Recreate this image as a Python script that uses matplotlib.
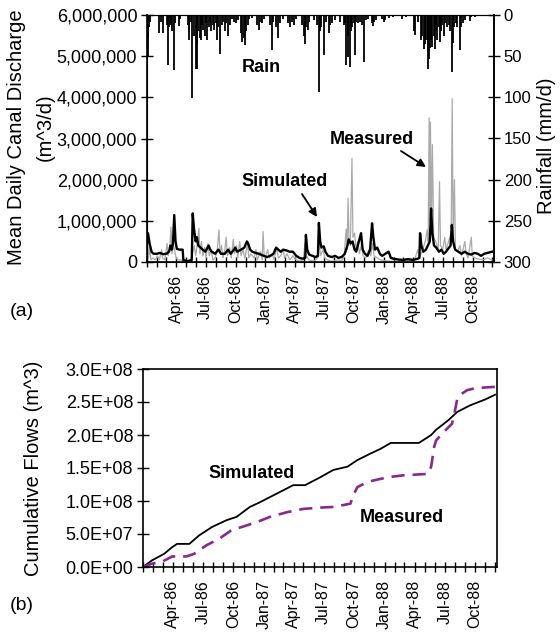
import numpy as np
import pandas as pd
import matplotlib
matplotlib.use("Agg")
import matplotlib.pyplot as plt
from matplotlib.ticker import FuncFormatter, MultipleLocator

plt.rcParams['font.family'] = ['Liberation Sans', 'DejaVu Sans']

START = pd.Timestamp('1986-01-01')
X_END_DAY = 1070

# Simulated daily canal discharge: (day since 1 Jan 1986, million m^3/d)
simulated_flow = [
    (0, 0.45), (3, 0.70), (8, 0.45), (14, 0.25), (20, 0.20), (30, 0.20), (40, 0.22),
    (50, 0.19), (60, 0.20), (68, 0.25), (72, 0.40), (76, 0.30), (80, 0.45), (84, 1.14),
    (88, 0.50), (92, 0.32), (100, 0.30), (110, 0.30), (112, 0.05), (125, 0.02), (138, 0.05),
    (141, 1.18), (145, 0.80), (150, 0.50), (154, 0.60), (158, 0.40), (165, 0.35), (172, 0.30),
    (180, 0.25), (190, 0.40), (195, 0.30), (200, 0.25), (210, 0.20), (220, 0.30), (228, 0.20),
    (240, 0.20), (250, 0.30), (258, 0.20), (268, 0.30), (272, 0.35), (278, 0.25), (290, 0.30),
    (300, 0.35), (308, 0.50), (312, 0.45), (318, 0.30), (325, 0.25), (335, 0.22), (345, 0.20),
    (360, 0.15), (370, 0.12), (380, 0.15), (390, 0.20), (398, 0.35), (405, 0.30), (412, 0.25),
    (420, 0.30), (430, 0.28), (440, 0.25), (450, 0.25), (460, 0.15), (470, 0.10), (480, 0.08),
    (488, 0.10), (490, 0.66), (494, 0.30), (500, 0.18), (510, 0.15), (520, 0.12), (527, 0.15),
    (530, 0.95), (534, 0.50), (538, 0.35), (545, 0.38), (550, 0.25), (558, 0.15), (570, 0.12),
    (580, 0.15), (590, 0.10), (600, 0.12), (610, 0.20), (618, 0.40), (622, 0.55), (628, 0.45),
    (634, 0.50), (640, 0.30), (645, 0.25), (660, 0.70), (665, 0.30), (672, 0.20), (680, 0.15),
    (688, 0.30), (694, 0.94), (698, 0.60), (703, 0.30), (710, 0.35), (718, 0.20), (725, 0.15),
    (735, 0.20), (745, 0.25), (752, 0.10), (760, 0.08), (775, 0.06), (790, 0.05), (805, 0.07),
    (820, 0.05), (835, 0.08), (840, 0.10), (842, 0.70), (846, 0.40), (852, 0.25), (860, 0.30),
    (866, 0.40), (872, 0.50), (876, 1.30), (880, 0.70), (885, 0.40), (892, 0.35), (900, 0.25),
    (908, 0.30), (915, 0.20), (922, 0.25), (936, 0.40), (940, 0.90), (944, 0.50), (950, 0.30),
    (960, 0.25), (970, 0.20), (980, 0.25), (990, 0.20), (1000, 0.18), (1010, 0.22), (1020, 0.20),
    (1030, 0.15), (1040, 0.20), (1050, 0.22), (1064, 0.25),
]

# Measured daily canal discharge: (day since 1 Jan 1986, million m^3/d)
measured_flow = [
    (0, 0.30), (2, 0.50), (5, 0.10), (9, 0.35), (12, 0.05), (18, 0.10), (25, 0.05), (32, 0.15),
    (38, 0.05), (45, 0.30), (48, 0.10), (55, 0.05), (62, 0.45), (65, 0.15), (70, 0.30), (74, 0.85),
    (77, 0.20), (82, 0.40), (86, 0.25), (90, 0.10), (95, 0.05), (105, 0.05), (120, 0.02), (135, 0.03),
    (140, 0.20), (146, 0.40), (150, 0.15), (156, 0.50), (160, 0.82), (163, 0.20), (168, 0.50),
    (172, 0.15), (178, 0.35), (182, 0.10), (188, 0.45), (192, 0.15), (198, 0.30), (203, 0.05),
    (210, 0.10), (216, 0.25), (222, 0.78), (225, 0.20), (230, 0.40), (234, 0.10), (240, 0.30),
    (244, 0.60), (248, 0.15), (255, 0.35), (260, 0.10), (266, 0.55), (270, 0.20), (276, 0.40),
    (280, 0.10), (286, 0.50), (290, 0.15), (296, 0.30), (302, 0.10), (310, 0.45), (314, 0.10),
    (320, 0.20), (330, 0.10), (336, 0.30), (340, 0.05), (350, 0.25), (355, 0.05), (358, 0.74),
    (361, 0.20), (366, 0.10), (372, 0.30), (378, 0.10), (386, 0.20), (392, 0.05), (400, 0.35),
    (405, 0.10), (412, 0.15), (420, 0.30), (424, 0.10), (432, 0.20), (440, 0.05), (450, 0.15),
    (460, 0.05), (470, 0.02), (482, 0.05), (487, 0.45), (491, 0.15), (500, 0.05), (512, 0.02),
    (520, 0.05), (526, 0.10), (531, 0.50), (535, 0.15), (542, 0.30), (548, 0.10), (556, 0.05),
    (570, 0.02), (590, 0.05), (600, 0.03), (608, 0.15), (614, 0.80), (617, 0.30), (620, 1.55),
    (623, 0.50), (627, 0.40), (632, 2.52), (635, 0.60), (640, 0.70), (645, 0.30), (650, 0.50),
    (655, 0.20), (662, 0.45), (666, 0.15), (675, 0.10), (684, 0.30), (690, 0.15), (696, 0.45),
    (700, 0.15), (710, 0.10), (720, 0.05), (735, 0.03), (750, 0.02), (770, 0.01), (790, 0.02),
    (810, 0.03), (825, 0.05), (835, 0.30), (840, 0.10), (850, 0.30), (858, 0.50), (864, 0.78),
    (867, 0.50), (870, 3.50), (872, 1.00), (874, 3.40), (877, 0.80), (880, 2.85), (884, 0.60),
    (890, 0.50), (898, 0.30), (902, 1.95), (905, 0.40), (912, 0.30), (918, 0.60), (922, 0.30),
    (930, 0.50), (938, 0.70), (941, 3.97), (944, 0.50), (948, 2.00), (951, 0.30), (958, 0.25),
    (965, 0.40), (970, 0.15), (980, 0.50), (984, 0.20), (990, 0.10), (1000, 0.60), (1003, 0.15),
    (1010, 0.10), (1020, 0.08), (1035, 0.05), (1050, 0.10), (1064, 0.05),
]

# Daily rainfall events: (day since 1 Jan 1986, mm/d)
rainfall = [
    (2, 51), (4, 28), (6, 15), (9, 8), (38, 22), (42, 8), (48, 22), (63, 12), (66, 61), (69, 15),
    (72, 10), (75, 12), (78, 20), (82, 67), (85, 10), (100, 13), (102, 5), (125, 12), (128, 30),
    (131, 18), (135, 8), (140, 101), (145, 25), (150, 65), (153, 35), (155, 65), (158, 20),
    (162, 28), (166, 30), (170, 12), (174, 18), (178, 25), (182, 10), (186, 30), (190, 15),
    (194, 8), (198, 20), (203, 12), (208, 18), (212, 10), (216, 30), (220, 15), (225, 47),
    (230, 12), (235, 8), (240, 20), (244, 10), (250, 25), (256, 12), (262, 5), (268, 8), (275, 10),
    (282, 6), (290, 22), (294, 33), (298, 28), (302, 36), (306, 20), (310, 12), (315, 5), (325, 4),
    (340, 12), (346, 18), (350, 8), (356, 10), (362, 5),
    (380, 12), (385, 43), (390, 8), (398, 15), (405, 28), (410, 10), (420, 5), (435, 10), (440, 15),
    (446, 8), (452, 12), (460, 5), (478, 12), (483, 25), (487, 35), (491, 15), (495, 18), (500, 8),
    (515, 6), (524, 12), (530, 93), (534, 20), (538, 15), (547, 49), (552, 8), (560, 22), (565, 12),
    (570, 10), (580, 6), (595, 8), (606, 12), (610, 10), (615, 61), (619, 51), (621, 25), (625, 63),
    (628, 20), (631, 15), (637, 10), (640, 49), (645, 8), (650, 10), (658, 8), (663, 12), (670, 57),
    (675, 6), (680, 5), (694, 10), (697, 13), (700, 8), (705, 6),
    (725, 5), (730, 8), (735, 6), (745, 4), (760, 3), (785, 5), (800, 3), (822, 20), (826, 24),
    (835, 8), (845, 30), (849, 25), (853, 41), (857, 35), (861, 30), (865, 45), (868, 65), (871, 54),
    (874, 40), (877, 30), (880, 39), (884, 25), (887, 41), (891, 20), (895, 30), (899, 15), (903, 33),
    (907, 20), (911, 12), (915, 25), (920, 10), (925, 15), (931, 12), (935, 20), (940, 69), (944, 34),
    (948, 15), (952, 10), (957, 15), (965, 43), (969, 15), (973, 10), (980, 6), (995, 7), (1000, 3),
    (1010, 2),
]

# Cumulative flows: (day since 1 Jan 1986, 1e8 m^3)
cumulative_simulated = [
    (0, 0.0), (27, 0.10), (64, 0.20), (88, 0.30), (103, 0.35), (140, 0.35), (170, 0.48),
    (210, 0.61), (253, 0.71), (283, 0.76), (323, 0.91), (353, 0.98), (384, 1.06), (423, 1.16),
    (454, 1.24), (490, 1.24), (536, 1.36), (575, 1.47), (618, 1.52), (648, 1.62), (688, 1.72),
    (718, 1.79), (749, 1.88), (834, 1.88), (871, 2.00), (886, 2.08), (922, 2.22), (950, 2.35),
    (989, 2.45), (1035, 2.54), (1064, 2.61),
]
cumulative_measured = [
    (0, 0.0), (27, 0.05), (58, 0.08), (88, 0.16), (131, 0.16), (155, 0.20), (192, 0.33),
    (231, 0.43), (268, 0.56), (301, 0.61), (344, 0.68), (384, 0.76), (435, 0.83), (484, 0.88),
    (536, 0.90), (575, 0.91), (597, 0.93), (627, 0.96), (636, 1.09), (648, 1.21), (679, 1.29),
    (740, 1.36), (788, 1.39), (861, 1.41), (871, 1.52), (880, 1.82), (886, 1.92), (910, 2.05),
    (934, 2.17), (941, 2.32), (950, 2.55), (962, 2.62), (980, 2.68), (1005, 2.71), (1064, 2.73),
]

quarter_labels = ['Apr-86', 'Jul-86', 'Oct-86', 'Jan-87', 'Apr-87', 'Jul-87', 'Oct-87',
                  'Jan-88', 'Apr-88', 'Jul-88', 'Oct-88']


def to_dates(days):
    return (START + pd.to_timedelta(np.asarray(days), unit='D')).to_numpy()


def split(pairs):
    arr = np.array(pairs, dtype=float)
    return to_dates(arr[:, 0]), arr[:, 1]


W, H = 560, 637
fig = plt.figure(figsize=(W / 100, H / 100), dpi=100)


def fx(px):
    return px / W


def fy(py):
    return 1 - py / H


x_lo = to_dates([0])[0]
x_hi = to_dates([X_END_DAY])[0]
month_ticks = pd.date_range('1986-01-01', '1988-12-01', freq='MS').to_numpy()
quarter_ticks = pd.to_datetime(quarter_labels, format='%b-%y').to_numpy()


def style_time_axis(ax):
    ax.set_xlim(x_lo, x_hi)
    ax.set_xticks(quarter_ticks)
    ax.set_xticklabels(quarter_labels, rotation=90, fontsize=11.5)
    ax.set_xticks(month_ticks, minor=True)
    ax.tick_params(axis='x', which='both', direction='inout', length=7, width=1.0, pad=6)


# ---------------- (a) daily discharge and rainfall ----------------
ax1 = fig.add_axes([fx(147), fy(262), fx(494) - fx(147), fy(15) - fy(262)])
md, mq = split(measured_flow)
sd, sq = split(simulated_flow)
ax1.plot(md, mq * 1e6, color='#aaaaaa', lw=0.9, zorder=2)
ax1.plot(sd, sq * 1e6, color='black', lw=1.7, zorder=3)
ax1.set_ylim(0, 6e6)
ax1.yaxis.set_major_locator(MultipleLocator(1e6))
ax1.yaxis.set_major_formatter(FuncFormatter(lambda v, p: f'{v:,.0f}'))
ax1.tick_params(axis='y', direction='inout', length=8, width=1.0, labelsize=13, pad=3)
style_time_axis(ax1)
for s in ['left', 'bottom', 'right']:
    ax1.spines[s].set_linewidth(1.2)
ax1.spines['top'].set_linewidth(0.8)

ax2 = ax1.twinx()
rd, rmm = split(rainfall)
ax2.vlines(rd, 0, rmm, color='black', lw=1.3)
ax2.set_ylim(300, 0)
ax2.yaxis.set_major_locator(MultipleLocator(50))
ax2.tick_params(axis='y', direction='inout', length=8, width=1.0, labelsize=12, pad=3)
ax2.spines['right'].set_linewidth(1.2)
ax2.set_xlim(x_lo, x_hi)

fig.text(fx(17), fy(137), 'Mean Daily Canal Discharge', rotation=90,
         ha='center', va='center', fontsize=14.5)
fig.text(fx(45), fy(127), '(m^3/d)', rotation=90, ha='center', va='center', fontsize=14.5)
fig.text(fx(546), fy(146), 'Rainfall (mm/d)', rotation=90, ha='center', va='center',
         fontsize=14.5)

fig.text(fx(261), fy(68), 'Rain', ha='center', va='center', fontsize=13, weight='bold')
fig.text(fx(285), fy(182), 'Simulated', ha='center', va='center', fontsize=13, weight='bold')
fig.text(fx(372), fy(139), 'Measured', ha='center', va='center', fontsize=13, weight='bold')
arrow = dict(arrowstyle='-|>', color='black', lw=1.3, mutation_scale=12, shrinkA=0, shrinkB=0)
fig.add_artist(plt.Annotation('', xy=(fx(317), fy(217)), xytext=(fx(302), fy(194)),
                              xycoords='figure fraction', textcoords='figure fraction',
                              arrowprops=arrow))
fig.add_artist(plt.Annotation('', xy=(fx(426), fy(167)), xytext=(fx(401), fy(151)),
                              xycoords='figure fraction', textcoords='figure fraction',
                              arrowprops=arrow))
fig.text(fx(22), fy(312), '(a)', ha='center', va='center', fontsize=14)

# ---------------- (b) cumulative flows ----------------
ax3 = fig.add_axes([fx(143), fy(567), fx(497) - fx(143), fy(369) - fy(567)])
csd, csv = split(cumulative_simulated)
cmd, cmv = split(cumulative_measured)
ax3.plot(csd, csv * 1e8, color='black', lw=1.3)
ax3.plot(cmd, cmv * 1e8, color='#862b8c', lw=1.9, dashes=(5, 3))
ax3.set_ylim(0, 3e8)
ax3.yaxis.set_major_locator(MultipleLocator(5e7))
ax3.yaxis.set_major_formatter(FuncFormatter(lambda v, p: f'{v:.1E}'))
ax3.tick_params(axis='y', direction='inout', length=8, width=1.0, labelsize=13, pad=3)
style_time_axis(ax3)
for s in ax3.spines.values():
    s.set_linewidth(1.2)

fig.text(fx(34), fy(468), 'Cumulative Flows (m^3)', rotation=90, ha='center', va='center',
         fontsize=14.5)
fig.text(fx(252), fy(473), 'Simulated', ha='center', va='center', fontsize=13, weight='bold')
fig.text(fx(402), fy(518), 'Measured', ha='center', va='center', fontsize=13, weight='bold')
fig.text(fx(22), fy(606), '(b)', ha='center', va='center', fontsize=14)

fig.savefig('out.png', dpi=100)
